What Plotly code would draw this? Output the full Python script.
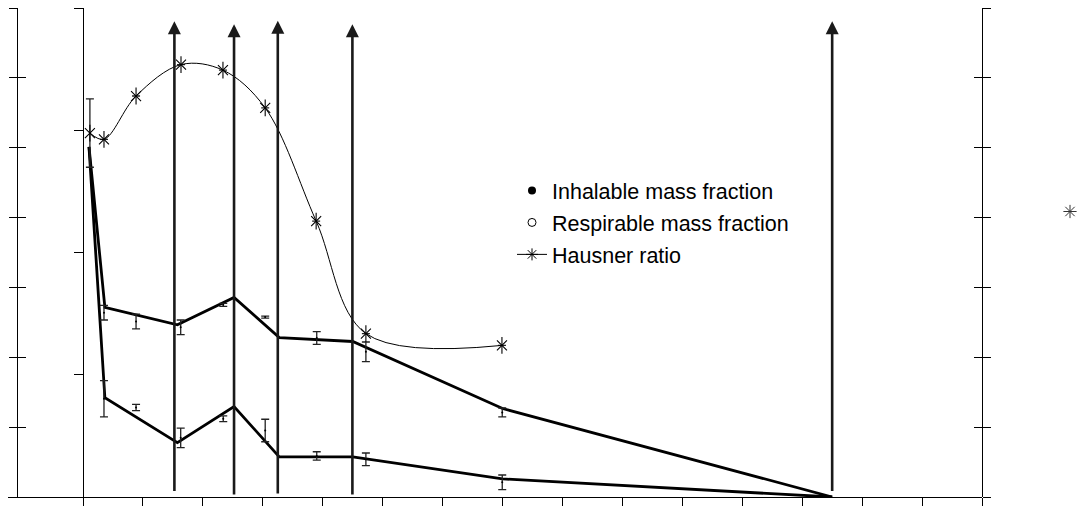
import plotly.graph_objects as go

# ---- data -------------------------------------------------------------
# Hausner ratio (measured points, smooth curve)
hausner_x = [0.23, 0.70, 1.77, 3.27, 4.67, 6.08, 7.78, 9.44, 13.98]
hausner_ratio = [1.521, 1.512, 1.574, 1.619, 1.611, 1.557, 1.395, 1.234, 1.217]
hausner_err = [0.049, None, None, None, None, None, None, None, None]

# mass fractions with standard deviations (%)
meas_x = [0.70, 1.77, 3.26, 4.68, 6.08, 7.80, 9.44, 13.99]
inhal_mean = [37.7, 35.9, 34.7, 39.3, 36.8, 32.5, 29.7, 17.3]
inhal_sd = [1.5, 1.5, 1.5, 0.3, 0.2, 1.3, 2.0, 0.9]
resp_mean = [20.1, 18.3, 12.1, 16.0, 13.6, 8.4, 7.7, 3.0]
resp_sd = [3.7, 0.65, 2.0, 0.6, 2.3, 0.85, 1.3, 1.5]

# mass fraction trend lines
line_x = [0.2, 0.73, 3.15, 5.04, 6.55, 9.0, 14.0, 25.0]
inhal_line = [71.6, 38.8, 35.2, 40.8, 32.6, 31.8, 18.1, 0.0]
resp_line = [71.6, 20.3, 11.1, 18.5, 8.2, 8.2, 3.7, 0.0]

# vertical marker arrows
arrow_x = [3.05, 5.04, 6.50, 8.99, 25.0]
arrow_top = [97.3, 96.7, 97.4, 96.7, 97.3]
arrow_base = [0.9, 0.2, 0.4, 0.2, 0.9]

legend_names = ["Inhalable mass fraction", "Respirable mass fraction", "Hausner ratio"]

# ---- layout helpers ---------------------------------------------------
W, H = 1091, 506


def fx(p):
    return p / W


def fy(p):
    return 1 - p / H


FONT = "Liberation Sans, Arial, sans-serif"
INK = "black"

fig = go.Figure()

# thick trend lines
for ys in (inhal_line, resp_line):
    fig.add_trace(go.Scatter(
        x=line_x, y=ys, mode="lines", yaxis="y",
        line=dict(color=INK, width=2.8), showlegend=False, hoverinfo="skip"))

# mean values with error bars
for ys, sd in ((inhal_mean, inhal_sd), (resp_mean, resp_sd)):
    fig.add_trace(go.Scatter(
        x=meas_x, y=ys, mode="markers", yaxis="y",
        marker=dict(size=2, color=INK),
        error_y=dict(type="data", array=sd, visible=True,
                     color="#222", thickness=1.3, width=4),
        showlegend=False))

# Hausner ratio curve
fig.add_trace(go.Scatter(
    x=hausner_x, y=hausner_ratio, mode="lines", yaxis="y2",
    line=dict(color=INK, width=1, shape="spline", smoothing=1.0),
    error_y=dict(type="data", array=hausner_err, visible=True,
                 color="#222", thickness=1.3, width=4),
    showlegend=False))
fig.add_trace(go.Scatter(
    x=hausner_x, y=hausner_ratio, mode="markers", yaxis="y2",
    marker=dict(symbol="x-thin-open", size=10, color=INK, line=dict(width=1.1, color=INK)),
    showlegend=False))
fig.add_trace(go.Scatter(
    x=hausner_x, y=hausner_ratio, mode="markers", yaxis="y2",
    marker=dict(symbol="line-ns-open", size=12, color=INK, line=dict(width=1.1, color=INK)),
    showlegend=False))

# legend keys
fig.add_trace(go.Scatter(
    x=[None], y=[None], mode="markers", name=legend_names[0], legendgroup="a",
    marker=dict(symbol="circle", size=8, color=INK)))
fig.add_trace(go.Scatter(
    x=[None], y=[None], mode="markers", name=legend_names[1], legendgroup="b",
    marker=dict(symbol="circle-open", size=8, color=INK, line=dict(width=1, color=INK))))
fig.add_trace(go.Scatter(
    x=[None], y=[None], mode="lines+markers", name=legend_names[2], legendgroup="c",
    line=dict(color=INK, width=1),
    marker=dict(symbol="asterisk-open", size=10, color=INK, line=dict(width=1, color=INK))))
# Hausner key beside the right-hand axis
fig.add_trace(go.Scatter(
    x=[None], y=[None], mode="markers", name=" ", legend="legend2",
    marker=dict(symbol="asterisk-open", size=11, color="#333", line=dict(width=1, color="#333"))))

# arrows
annotations = []
for xa, yt, yb in zip(arrow_x, arrow_top, arrow_base):
    annotations.append(dict(
        x=xa, y=yt, ax=xa, ay=yb, xref="x", yref="y", axref="x", ayref="y",
        text="", showarrow=True, arrowhead=2, arrowsize=1, arrowwidth=2.6,
        arrowcolor="#1a1a1a", standoff=0, startstandoff=0))

ydom = [fy(497), fy(8)]
axis_common = dict(showgrid=False, zeroline=False, showticklabels=False,
                   linecolor=INK, linewidth=1.2, tickcolor=INK, tickwidth=1.2)

fig.update_layout(
    width=W, height=H,
    margin=dict(l=0, r=0, t=0, b=0, autoexpand=False),
    paper_bgcolor="white", plot_bgcolor="white",
    font=dict(family=FONT, color=INK),
    showlegend=True,
    legend=dict(x=fx(512), y=fy(170), xanchor="left", yanchor="top",
                font=dict(family=FONT, size=21.5, color=INK),
                bgcolor="rgba(0,0,0,0)", traceorder="grouped", tracegroupgap=1),
    legend2=dict(x=fx(1050), y=fy(197), xanchor="left", yanchor="top",
                 bgcolor="rgba(0,0,0,0)", font=dict(size=12)),
    xaxis=dict(domain=[fx(8), fx(982)], range=[-2.503, 30.0],
               tickmode="array", tickvals=list(range(0, 31, 2)),
               ticks="outside", ticklen=8, showline=True, anchor="y", **axis_common),
    yaxis=dict(domain=ydom, range=[0, 100], tickmode="linear", tick0=0, dtick=25,
               ticks="outside", ticklen=9, showline=True,
               anchor="free", position=fx(83), **axis_common),
    yaxis2=dict(range=[1.0, 1.7], tickmode="linear", tick0=1.0, dtick=0.1,
                ticks="outside", ticklen=8, showline=True, overlaying="y",
                anchor="free", position=fx(17), side="left", **axis_common),
    yaxis3=dict(range=[1.0, 1.7], tickmode="linear", tick0=1.0, dtick=0.1,
                ticks="inside", ticklen=8, overlaying="y",
                anchor="free", position=fx(17), side="left",
                **{**axis_common, "linewidth": 0}),
    yaxis4=dict(range=[1.0, 1.7], tickmode="linear", tick0=1.0, dtick=0.1,
                ticks="outside", ticklen=8, showline=True, overlaying="y",
                anchor="free", position=fx(982), side="right", **axis_common),
    yaxis5=dict(range=[1.0, 1.7], tickmode="linear", tick0=1.0, dtick=0.1,
                ticks="inside", ticklen=8, overlaying="y",
                anchor="free", position=fx(982), side="right",
                **{**axis_common, "linewidth": 0}),
    annotations=annotations,
)

# the mirror-tick axes need a trace each to be drawn
for ax in ("y3", "y4", "y5"):
    fig.add_trace(go.Scatter(x=[None], y=[None], yaxis=ax, showlegend=False, hoverinfo="skip"))

fig.write_html("out.html")
